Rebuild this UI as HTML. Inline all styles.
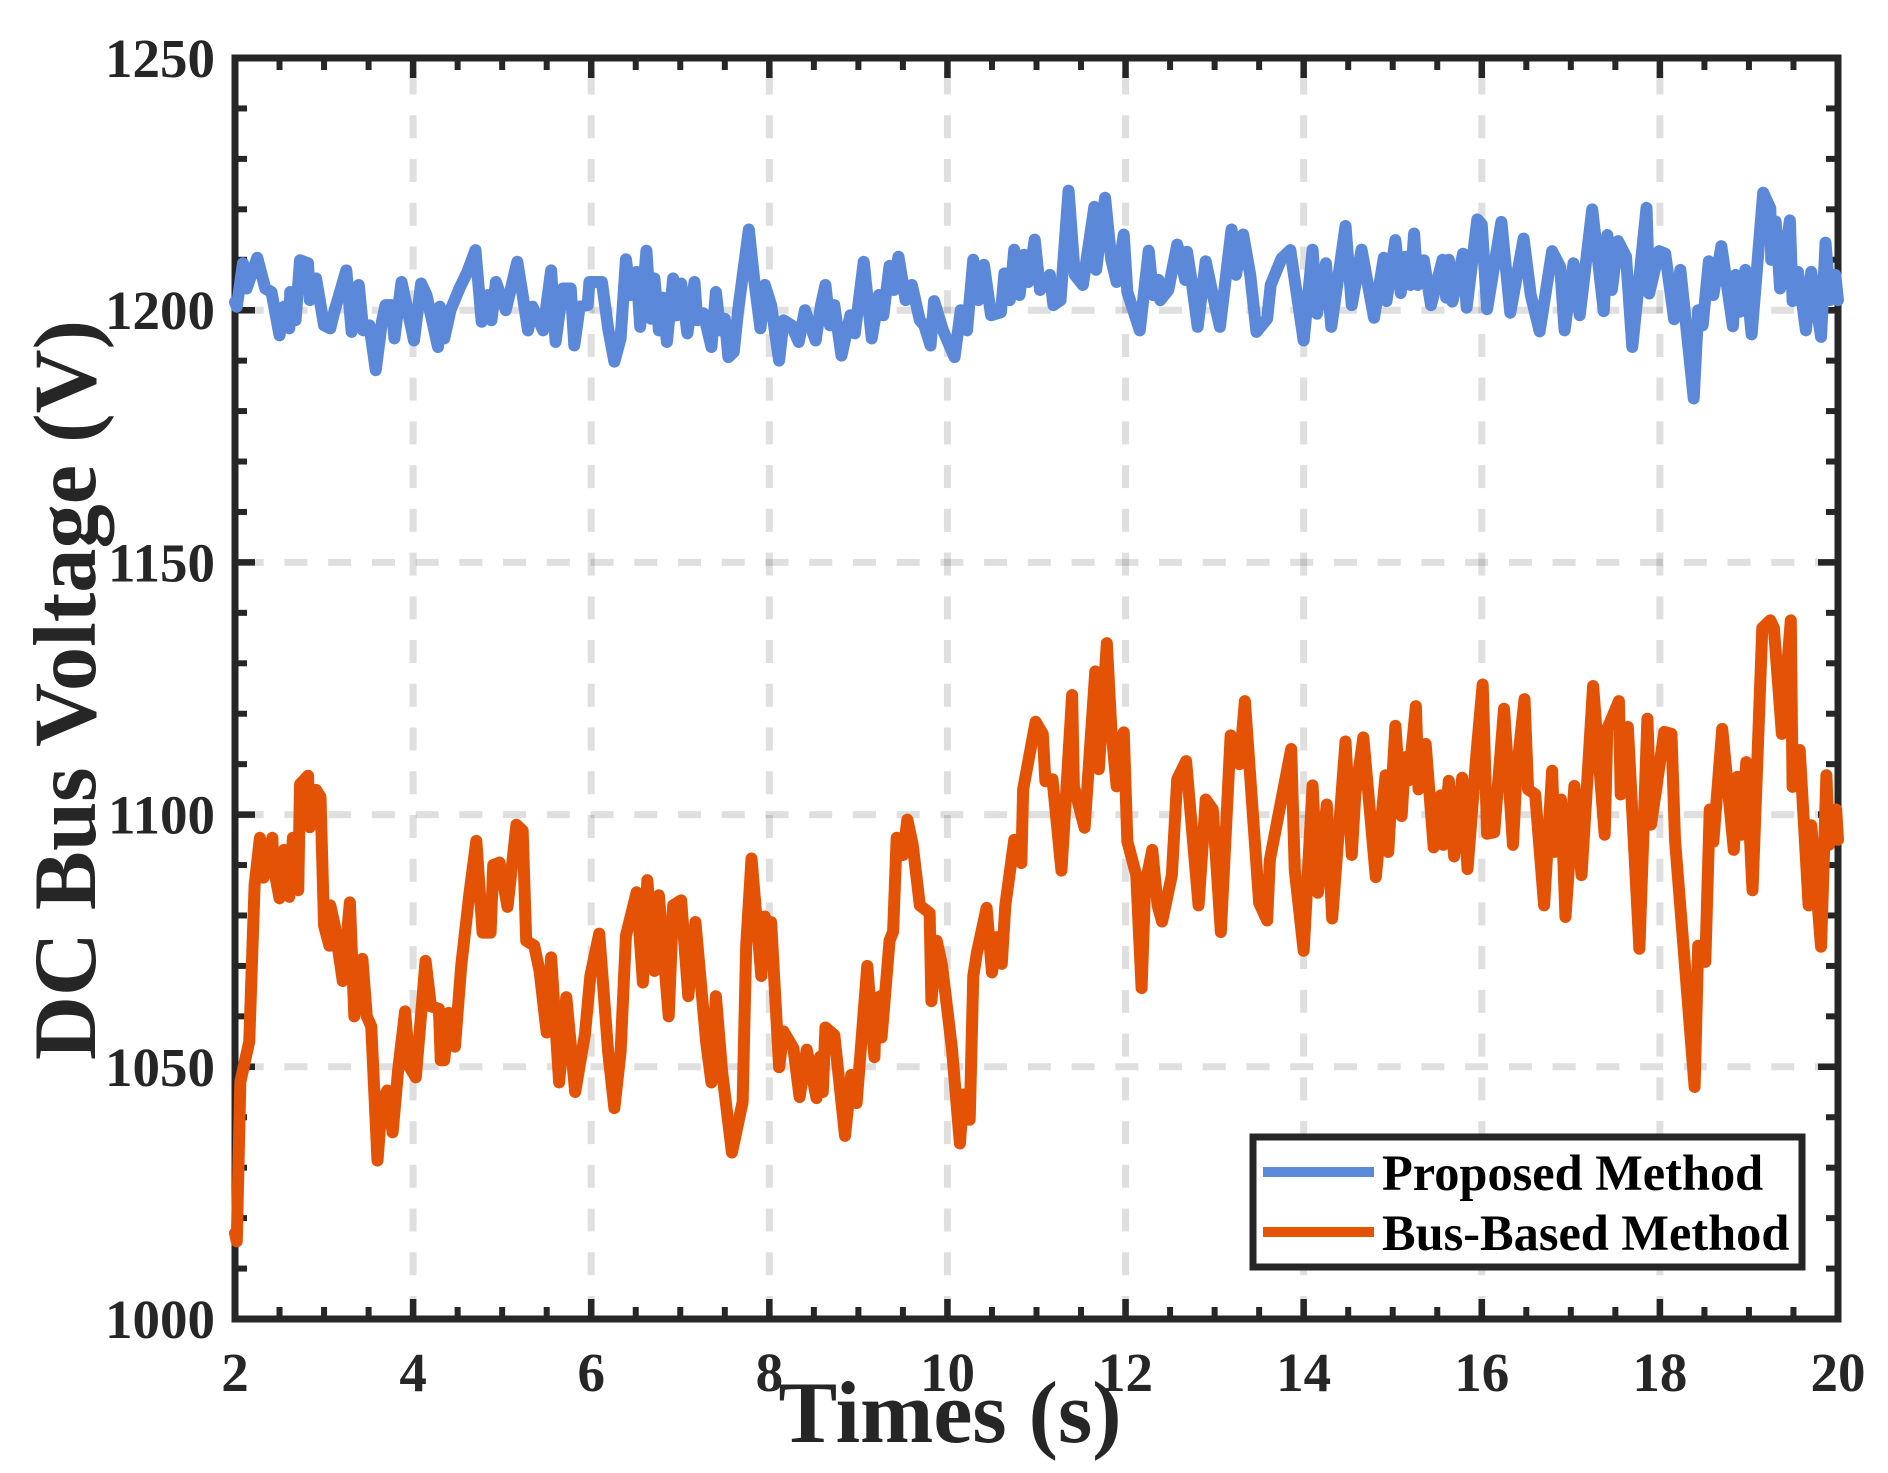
<!DOCTYPE html>
<html lang="en">
<head>
<meta charset="utf-8">
<title>DC Bus Voltage</title>
<style>
html,body{margin:0;padding:0;background:#fff;}
svg{display:block;}
text{font-family:"Liberation Serif",serif;font-weight:bold;}
</style>
</head>
<body>
<svg id="chart" xmlns="http://www.w3.org/2000/svg" width="1888" height="1473" viewBox="0 0 1888 1473">
  <rect x="0" y="0" width="1888" height="1473" fill="#fff"/>
  <g id="grid"></g>
  <g id="ticks"></g>
  <rect x="235" y="58" width="1603" height="1261" fill="none" stroke="#262626" stroke-width="7"/>
  <g id="tick-labels"></g>
  <text transform="translate(95,690) rotate(-90)" text-anchor="middle" font-size="88.5" fill="#262626">DC Bus Voltage (V)</text>
  <text x="950" y="1442" text-anchor="middle" font-size="88" fill="#262626">Times (s)</text>
  <g id="series"></g>
  <g>
    <rect x="1253" y="1137" width="549" height="130" fill="#fff" stroke="#262626" stroke-width="7"/>
    <line x1="1263" y1="1172" x2="1374" y2="1172" stroke="#5B88D9" stroke-width="10"/>
    <text x="1382" y="1190" font-size="50.4" fill="#000">Proposed Method</text>
    <line x1="1263" y1="1232" x2="1374" y2="1232" stroke="#E35205" stroke-width="10"/>
    <text x="1382" y="1250" font-size="50.4" fill="#000">Bus-Based Method</text>
  </g>
</svg>
<script>
const xTickValues = [2,4,6,8,10,12,14,16,18,20];
const yTickValues = [1000,1050,1100,1150,1200,1250];
const xGridValues = [4,6,8,10,12,14,16,18];
const yGridValues = [1050,1100,1150,1200];

const proposedTimes = [2,2.02,2.09,2.13,2.25,2.34,2.41,2.5,2.55,2.61,2.62,2.68,2.73,2.82,2.84,2.91,3,3.07,3.12,3.25,3.31,3.39,3.44,3.51,3.58,3.65,3.69,3.76,3.79,3.87,4.01,4.09,4.15,4.28,4.3,4.35,4.42,4.52,4.61,4.7,4.77,4.84,4.88,4.93,5.04,5.17,5.23,5.29,5.34,5.46,5.55,5.6,5.68,5.77,5.81,5.87,5.96,5.98,6.12,6.19,6.26,6.33,6.39,6.44,6.51,6.55,6.62,6.67,6.71,6.76,6.8,6.85,6.92,6.96,7.01,7.08,7.16,7.19,7.26,7.35,7.4,7.45,7.5,7.54,7.6,7.65,7.77,7.83,7.9,7.95,8.02,8.11,8.16,8.25,8.33,8.4,8.46,8.52,8.58,8.63,8.68,8.73,8.81,8.91,8.96,9.06,9.15,9.23,9.28,9.35,9.4,9.45,9.53,9.6,9.69,9.74,9.81,9.85,9.95,10.08,10.15,10.22,10.29,10.35,10.41,10.49,10.6,10.64,10.7,10.75,10.81,10.86,10.91,10.98,11.04,11.15,11.19,11.27,11.36,11.43,11.52,11.65,11.67,11.77,11.84,11.9,11.98,12.02,12.16,12.26,12.31,12.37,12.39,12.48,12.58,12.67,12.69,12.74,12.81,12.9,12.98,13.06,13.19,13.24,13.32,13.4,13.47,13.59,13.63,13.75,13.85,14,14.1,14.15,14.25,14.31,14.47,14.54,14.65,14.79,14.9,14.93,15.03,15.09,15.14,15.2,15.24,15.28,15.35,15.43,15.56,15.6,15.63,15.67,15.79,15.83,15.95,16,16.06,16.22,16.32,16.47,16.55,16.65,16.79,16.88,16.93,17.03,17.1,17.24,17.37,17.41,17.46,17.53,17.62,17.69,17.85,17.88,17.99,18.06,18.16,18.23,18.38,18.43,18.48,18.55,18.6,18.69,18.82,18.85,18.9,18.96,19.03,19.16,19.24,19.25,19.3,19.35,19.46,19.49,19.55,19.64,19.7,19.81,19.86,19.91,19.97,20];
const proposedValues = [1201.6,1200.7,1209.3,1204.3,1210.4,1204.3,1203.6,1195,1200.7,1196.4,1203.6,1198,1209.9,1209.3,1202,1206.3,1197,1196.4,1200,1207.9,1195.7,1205,1196,1197,1188.1,1197.7,1201,1201,1194.4,1205.6,1194,1205.3,1203,1192.7,1200.7,1194.4,1200,1204.3,1207.6,1211.9,1197.7,1203,1198,1205.6,1200,1209.6,1203,1196,1200.7,1196,1207.9,1193.7,1204.3,1204.3,1193,1200.7,1201,1205.6,1205.6,1196.4,1189.8,1194.4,1210.1,1203,1207.6,1196.7,1211.8,1198.3,1206.3,1196,1202.5,1193.7,1206.3,1199,1205.3,1195.4,1205.6,1198,1199.4,1192.7,1203.6,1196,1198.3,1190.7,1191.7,1200,1216,1206,1196.4,1205,1201,1190,1198,1197,1193.7,1200,1197,1194,1201,1205,1197,1201,1191,1199,1195.4,1209.6,1194.4,1203,1199,1208.8,1204,1210.6,1202,1205,1198,1197,1193,1201.8,1196,1190.7,1200,1196,1210,1202,1209,1199,1199.6,1207.3,1202,1212,1203,1211,1205.6,1214,1204,1207,1201,1202,1223.7,1207,1205,1220.5,1208,1222.3,1210,1205.6,1215,1203.6,1196,1211.8,1203,1206,1202,1204,1213,1206,1211.6,1206,1196.7,1209.7,1203,1196.7,1216,1207,1215,1207,1195.7,1198.3,1205,1210.2,1211.9,1194,1212,1199.3,1209.3,1196.7,1216.7,1201,1212,1198.5,1210.4,1201.8,1213.9,1203.4,1210.6,1205,1215.2,1205,1209.9,1201,1210,1202.5,1210,1201.7,1211.2,1200.5,1218,1217,1200.2,1217.5,1199.5,1214.2,1203,1195.8,1211.7,1208.6,1196,1209.3,1199,1220,1199.8,1214.9,1204,1213.7,1210.6,1192.7,1220.3,1203.3,1211.7,1211.2,1198.2,1208,1182.5,1200,1197,1209.7,1203,1212.7,1196.8,1207,1199.7,1208,1195.2,1223.3,1220.2,1210,1217.6,1204.3,1217.8,1201.8,1207.6,1196,1207.6,1194.7,1213.4,1202,1207,1202];

const busTimes = [2,2.02,2.06,2.16,2.22,2.28,2.32,2.42,2.43,2.5,2.55,2.61,2.65,2.71,2.73,2.82,2.84,2.91,2.96,3,3.06,3.07,3.12,3.21,3.29,3.34,3.43,3.48,3.53,3.6,3.65,3.71,3.77,3.83,3.91,3.96,4.03,4.14,4.2,4.29,4.31,4.35,4.4,4.47,4.54,4.63,4.71,4.78,4.87,4.9,4.97,5.06,5.16,5.23,5.27,5.36,5.42,5.5,5.55,5.64,5.72,5.82,5.93,5.99,6.09,6.19,6.26,6.33,6.39,6.51,6.58,6.63,6.71,6.76,6.87,6.92,7.01,7.09,7.17,7.29,7.35,7.4,7.47,7.58,7.7,7.74,7.8,7.91,7.95,7.98,8.02,8.11,8.16,8.27,8.34,8.42,8.53,8.57,8.6,8.63,8.73,8.85,8.92,8.98,9.1,9.18,9.2,9.25,9.26,9.35,9.39,9.43,9.5,9.55,9.61,9.69,9.8,9.82,9.88,9.94,10.05,10.14,10.18,10.25,10.29,10.33,10.44,10.5,10.55,10.61,10.65,10.75,10.83,10.85,10.99,11.07,11.1,11.18,11.28,11.4,11.42,11.54,11.66,11.7,11.79,11.84,11.9,11.98,12.02,12.12,12.18,12.22,12.3,12.36,12.41,12.52,12.58,12.68,12.82,12.9,12.98,13.07,13.18,13.28,13.34,13.5,13.59,13.62,13.86,13.9,14,14.1,14.16,14.26,14.32,14.47,14.54,14.58,14.67,14.81,14.92,14.95,15.03,15.1,15.14,15.18,15.26,15.29,15.37,15.46,15.54,15.57,15.63,15.69,15.78,15.84,15.94,16.01,16.06,16.14,16.25,16.35,16.39,16.48,16.52,16.6,16.7,16.79,16.82,16.89,16.94,17.04,17.12,17.25,17.38,17.41,17.54,17.56,17.64,17.77,17.86,17.9,18.05,18.13,18.17,18.39,18.43,18.51,18.56,18.6,18.7,18.83,18.87,18.92,18.97,19.04,19.15,19.24,19.28,19.37,19.47,19.49,19.57,19.67,19.7,19.81,19.87,19.9,19.98,20];
const busValues = [1017,1015.4,1047,1055,1086,1095.4,1087.5,1095.4,1090,1083.4,1093,1083.7,1095.4,1085,1106,1107.7,1097.5,1104.9,1103.5,1078,1074,1082,1078,1067,1082.6,1060,1071.4,1060,1058,1031.4,1043,1045.3,1037,1049,1061,1050,1047.9,1071,1062,1061.5,1051.3,1051.3,1060.7,1054,1070,1084,1094.8,1076.6,1076.6,1090,1090.5,1081.7,1098,1096.8,1075,1074,1069,1056.8,1071.7,1046.9,1063.8,1045,1056.5,1068,1076.4,1053,1041.8,1053,1076,1084.6,1066.7,1087,1069,1084,1060,1082,1083,1064,1078.7,1055,1046.9,1064,1049,1033,1043,1074,1091.3,1068,1079.8,1071,1078.7,1049.9,1057,1053.7,1044,1053.4,1043.8,1052,1045,1057.8,1056.3,1036.3,1048.4,1042.8,1070,1051.9,1063.6,1064,1055.8,1075,1076.8,1095.4,1092,1099,1094,1082,1080.5,1063,1075,1070,1053.7,1034.8,1044.5,1039.5,1068,1072.5,1081.5,1068.7,1075.7,1070.4,1082,1095,1090.4,1105,1118.4,1116,1106.6,1107,1088.9,1123.7,1105.6,1097.4,1128.4,1109,1134,1117,1105.6,1116.3,1094.7,1088,1065.6,1086,1093,1082,1078.8,1088,1107,1110.6,1082,1103,1101,1076.7,1115.7,1110,1122.5,1082.5,1079,1091,1113,1089,1073,1105.8,1084.5,1102,1079.4,1114.5,1092,1104,1115.3,1087.6,1107.8,1092.6,1117.6,1099.7,1111.4,1106.8,1121.5,1105,1114,1093.5,1103.8,1094,1106.7,1091.7,1107.3,1089.2,1112,1125.8,1096.2,1096.5,1121,1094,1108,1122.9,1105,1104,1082,1108.7,1092.6,1103,1079.7,1105.7,1088,1125.5,1096,1117,1122.5,1104,1117.4,1073.4,1119,1098,1116.4,1116,1094.9,1046,1074,1070.8,1101,1094.6,1117,1093,1107.5,1096,1110.4,1085,1137,1138.5,1137,1116,1138.5,1105.5,1112.8,1082,1097.9,1073.8,1107.8,1094,1101,1095];

const NS = 'http://www.w3.org/2000/svg';
const plotLeft = 235, plotRight = 1838, plotTop = 58, plotBottom = 1319;
const xMin = 2, xMax = 20, yMin = 1000, yMax = 1250;
function xScale(t){ return plotLeft + (t - xMin) * (plotRight - plotLeft) / (xMax - xMin); }
function yScale(v){ return plotBottom - (v - yMin) * (plotBottom - plotTop) / (yMax - yMin); }
function make(tag, parent){
  const el = document.createElementNS(NS, tag);
  parent.appendChild(el);
  return el;
}
function setLine(el, x1, y1, x2, y2){
  el.setAttribute('x1', x1); el.setAttribute('y1', y1);
  el.setAttribute('x2', x2); el.setAttribute('y2', y2);
}

const gridGroup = document.getElementById('grid');
xGridValues.forEach(function(t){
  const l = make('line', gridGroup);
  
  
  setLine(l, xScale(t), plotBottom, xScale(t), plotTop);
  l.setAttribute('stroke', '#262626');
  l.setAttribute('stroke-opacity', '0.15');
  l.setAttribute('stroke-width', '7');
  l.setAttribute('stroke-dasharray', '23 20.73');
});
yGridValues.forEach(function(v){
  const l = make('line', gridGroup);
  
  
  setLine(l, plotRight, yScale(v), plotLeft, yScale(v));
  l.setAttribute('stroke', '#262626');
  l.setAttribute('stroke-opacity', '0.15');
  l.setAttribute('stroke-width', '7');
  l.setAttribute('stroke-dasharray', '23 20.73');
});

const tickGroup = document.getElementById('ticks');
function addXTick(t, len, w){
  [[plotBottom, plotBottom - len],[plotTop, plotTop + len]].forEach(function(p){
    const l = make('line', tickGroup);
    
    
    setLine(l, xScale(t), p[0], xScale(t), p[1]);
    l.setAttribute('stroke', '#262626');
    l.setAttribute('stroke-width', w);
  });
}
function addYTick(v, len, w){
  [[plotLeft, plotLeft + len],[plotRight, plotRight - len]].forEach(function(p){
    const l = make('line', tickGroup);
    
    
    setLine(l, p[0], yScale(v), p[1], yScale(v));
    l.setAttribute('stroke', '#262626');
    l.setAttribute('stroke-width', w);
  });
}
xTickValues.forEach(function(t, i){
  addXTick(t, 20, 6.5);
  if (i < xTickValues.length - 1) {
    const step = (xTickValues[i + 1] - t) / 4;
    for (let k = 1; k < 4; k++) addXTick(t + k * step, 12, 6);
  }
});
yTickValues.forEach(function(v, i){
  addYTick(v, 20, 6.5);
  if (i < yTickValues.length - 1) {
    const step = (yTickValues[i + 1] - v) / 5;
    for (let k = 1; k < 5; k++) addYTick(v + k * step, 12, 6);
  }
});

const labelGroup = document.getElementById('tick-labels');
xTickValues.forEach(function(t){
  const el = make('text', labelGroup);
  
  
  el.setAttribute('x', xScale(t));
  el.setAttribute('y', 1391);
  el.setAttribute('text-anchor', 'middle');
  el.setAttribute('font-size', '55');
  el.setAttribute('fill', '#262626');
  el.textContent = String(t);
});
yTickValues.forEach(function(v){
  const el = make('text', labelGroup);
  
  
  el.setAttribute('x', 215);
  el.setAttribute('y', yScale(v) + 19);
  el.setAttribute('text-anchor', 'end');
  el.setAttribute('font-size', '55');
  el.setAttribute('fill', '#262626');
  el.textContent = String(v);
});

const seriesGroup = document.getElementById('series');
function drawSeries(times, values, color, name){
  const p = make('polyline', seriesGroup);
  
  
  p.setAttribute('points', times.map(function(t, i){
    return xScale(t).toFixed(2) + ',' + yScale(values[i]).toFixed(2);
  }).join(' '));
  p.setAttribute('fill', 'none');
  p.setAttribute('stroke', color);
  p.setAttribute('stroke-width', '12');
  p.setAttribute('stroke-linejoin', 'round');
  p.setAttribute('stroke-linecap', 'round');
}
drawSeries(proposedTimes, proposedValues, '#5B88D9', 'proposed-method-line');
drawSeries(busTimes, busValues, '#E35205', 'bus-based-method-line');
</script>
</body>
</html>
